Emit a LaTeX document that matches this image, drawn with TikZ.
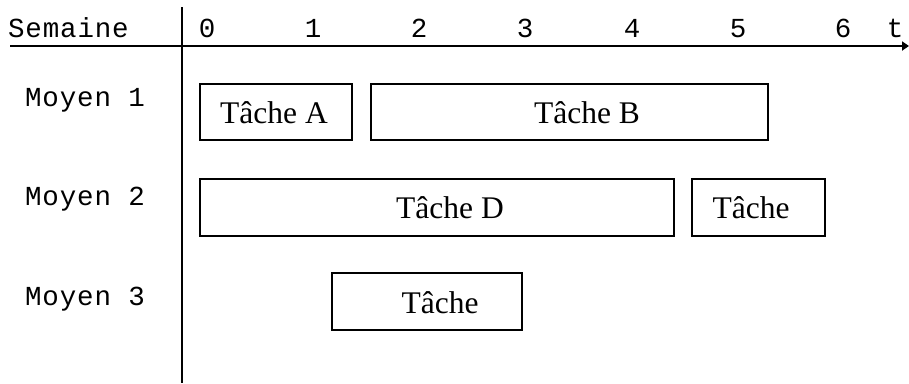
\documentclass[tikz,border=0pt]{standalone}
\usepackage{fontspec}
\setmainfont{Liberation Serif}
\newfontfamily\monofont[LetterSpace=3]{Liberation Mono}
\usetikzlibrary{arrows.meta}

\begin{document}
\begin{tikzpicture}[x=1pt,y=-1pt,
  axisline/.style={line width=2pt},
  taskbox/.style={draw,line width=2pt,rectangle,inner sep=0pt},
  tasklabel/.style={font=\fontsize{31.5}{36}\selectfont,inner sep=0pt,anchor=base},
  monolabel/.style={font=\monofont\fontsize{27.5}{32}\selectfont,inner sep=0pt,anchor=base}]
\useasboundingbox (0,0) rectangle (909,383);

% time axis and resource axis
\coordinate (tstart) at (10,46);
\coordinate (tend) at (909,46);
\coordinate (vtop) at (182,7);
\coordinate (vbot) at (182,383);
\draw[axisline,-{Triangle[length=7pt,width=9pt]}] (tstart) -- (tend);
\draw[axisline] (vtop) -- (vbot);

% header
\node[monolabel,anchor=base west] (sem) at (8,37) {Semaine};
\foreach \k/\xx in {0/207,1/313,2/419,3/525,4/632,5/738,6/843}
  \node[monolabel] (w\k) at (\xx,37) {\k};
\node[monolabel] (tlab) at (895,37) {t};

% resources
\node[monolabel,anchor=base west] (m1) at (25,106) {Moyen 1};
\node[monolabel,anchor=base west] (m2) at (25,205) {Moyen 2};
\node[monolabel,anchor=base west] (m3) at (25,305) {Moyen 3};

% tasks
\node[taskbox,minimum width=152,minimum height=56] (bA) at (276,112) {};
\node[tasklabel] (lA) at (274,123) {Tâche A};
\node[taskbox,minimum width=397,minimum height=56] (bB) at (569.5,112) {};
\node[tasklabel] (lB) at (587,123) {Tâche B};
\node[taskbox,minimum width=474,minimum height=57] (bD) at (437,207.5) {};
\node[tasklabel] (lD) at (450,218) {Tâche D};
\node[taskbox,minimum width=133,minimum height=57] (bE) at (758.5,207.5) {};
\node[tasklabel] (lE) at (751,218) {Tâche};
\node[taskbox,minimum width=190,minimum height=57] (bC) at (427,301.5) {};
\node[tasklabel] (lC) at (440,313) {Tâche};
\end{tikzpicture}
\end{document}
